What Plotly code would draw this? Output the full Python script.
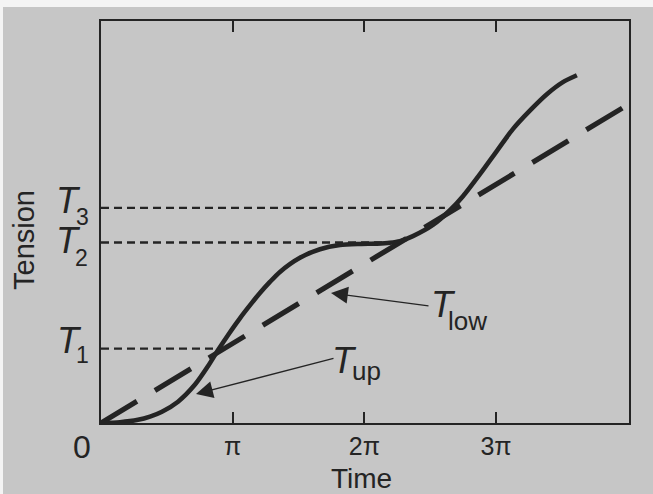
import plotly.graph_objects as go

# ---- data (time and tension in units of pi) ----
time_up = [0.0, 0.144, 0.281, 0.372, 0.463, 0.585, 0.714, 0.812, 0.888, 0.964,
           1.055, 1.147, 1.207, 1.283, 1.359, 1.511, 1.663, 1.815, 1.967, 2.096,
           2.194, 2.270, 2.369, 2.521, 2.650, 2.749, 2.878, 3.007, 3.128, 3.257,
           3.386, 3.508, 3.614]
tension_up = [0.0, 0.010, 0.040, 0.081, 0.143, 0.270, 0.487, 0.718, 0.922, 1.113,
              1.327, 1.525, 1.648, 1.788, 1.915, 2.094, 2.202, 2.255, 2.269, 2.274,
              2.285, 2.305, 2.369, 2.511, 2.696, 2.874, 3.154, 3.450, 3.725, 3.959,
              4.167, 4.320, 4.407]
time_low = [0.0, 3.964]
tension_low = [0.0, 3.996]

level_names = ["1", "2", "3"]
level_values = [0.943, 2.287, 2.726]
level_time_end = [0.866, 2.194, 2.612]

tick_vals = [1, 2, 3]
tick_text = ["π", "2π", "3π"]

# ---- layout geometry ----
W, H = 653, 494
ML, MR, MT, MB = 101, 24, 21, 71
PW, PH = W - ML - MR, H - MT - MB
X_RANGE = [0, 4.01]
Y_RANGE = [0, 5.095]


def fx(px):
    return (px - ML) / PW


def fy(py):
    return (H - MB - py) / PH


INK = "#242424"
BG = "#c6c6c6"
FONT = "Liberation Sans, Arial, sans-serif"

fig = go.Figure()

for name, lvl, tend in zip(level_names, level_values, level_time_end):
    fig.add_trace(go.Scatter(x=[0, tend], y=[lvl, lvl], mode="lines",
                             line=dict(color=INK, width=2.4, dash="8px,5px"),
                             hoverinfo="skip", showlegend=False))

fig.add_trace(go.Scatter(x=time_low, y=tension_low, mode="lines",
                         line=dict(color=INK, width=5.2, dash="42px,21px"),
                         name="T_low", showlegend=False))
fig.add_trace(go.Scatter(x=time_up, y=tension_up, mode="lines",
                         line=dict(color=INK, width=4.6, shape="spline", smoothing=0.7),
                         name="T_up", showlegend=False))

ann = []


def label(text, px, py, size, italic=False, angle=0):
    t = f"<i>{text}</i>" if italic else text
    ann.append(dict(text=t, x=fx(px), y=fy(py), xref="paper", yref="paper",
                    xanchor="center", yanchor="middle", showarrow=False,
                    textangle=angle, font=dict(size=size, color=INK, family=FONT)))


# level labels
for name, (tx, ty, sx, sy) in zip(level_names, [(69, 340, 82, 355),
                                                (68.5, 240, 81.5, 258),
                                                (68, 200, 82.5, 216.5)]):
    label("T", tx, ty, 36, italic=True)
    label(name, sx, sy, 23)

label("0", 82, 447, 32)
label("Time", 361, 478.5, 28)
label("Tension", 24, 240, 29, angle=-90)

label("T", 443, 304, 36, italic=True)
label("low", 467.5, 320.5, 26)
label("T", 344, 360, 36, italic=True)
label("up", 366.5, 370.5, 26)


# arrows (tip at x,y ; tail at ax, ay), in data units
def px2x(px):
    return (px - ML) / PW * (X_RANGE[1] - X_RANGE[0])


def py2y(py):
    return (H - MB - py) / PH * (Y_RANGE[1] - Y_RANGE[0])


for (tipx, tipy, tailx, taily) in [(331, 293, 430, 306), (196, 394, 335, 358)]:
    ann.append(dict(text="", x=px2x(tipx), y=py2y(tipy), ax=px2x(tailx), ay=py2y(taily),
                    xref="x", yref="y", axref="x", ayref="y", showarrow=True,
                    arrowhead=2, arrowsize=2.6, arrowwidth=1.3, arrowcolor=INK,
                    standoff=0, startstandoff=0))

shapes = [
    dict(type="rect", xref="paper", yref="paper", x0=fx(0), x1=fx(W), y0=fy(7), y1=fy(0),
         fillcolor="#f4f4f4", line=dict(width=0), layer="below"),
    dict(type="rect", xref="paper", yref="paper", x0=fx(0), x1=fx(3), y0=fy(H), y1=fy(0),
         fillcolor="#f4f4f4", line=dict(width=0), layer="below"),
]

fig.update_layout(
    width=W, height=H,
    margin=dict(l=ML, r=MR, t=MT, b=MB, autoexpand=False),
    paper_bgcolor=BG, plot_bgcolor=BG,
    annotations=ann, shapes=shapes,
    font=dict(family=FONT, color=INK),
    xaxis=dict(range=X_RANGE, showgrid=False, zeroline=False,
               showline=True, linewidth=2, linecolor=INK, mirror="ticks",
               ticks="inside", ticklen=11, tickwidth=1.5, tickcolor=INK,
               tickvals=tick_vals, ticktext=tick_text,
               tickfont=dict(size=25, color=INK, family=FONT)),
    yaxis=dict(range=Y_RANGE, showgrid=False, zeroline=False,
               showline=True, linewidth=2, linecolor=INK, mirror=True,
               ticks="", showticklabels=False),
)

fig.write_html("out.html",
               config={"displayModeBar": False},
               post_script="document.body.style.margin='0';"
                           "document.body.style.background='" + BG + "';")
